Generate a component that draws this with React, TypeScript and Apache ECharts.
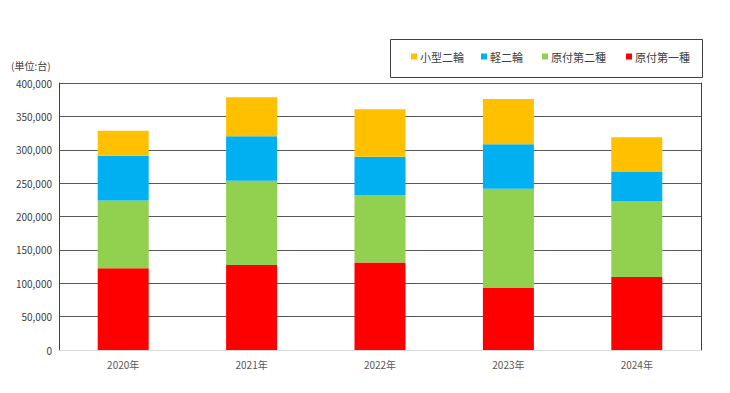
import React, { useEffect, useRef } from "react";
import * as echarts from "echarts";

const categories = ["2020年", "2021年", "2022年", "2023年", "2024年"];
const gentsuki1 = [122300, 127200, 131200, 92800, 109300];
const gentsuki2 = [101800, 126300, 100800, 148700, 113800];
const kei2rin = [66800, 66900, 57400, 66900, 43400];
const kogata2rin = [37400, 58300, 71400, 67800, 52400];
const legendNames = ["小型二輪", "軽二輪", "原付第二種", "原付第一種"];
const colors = ["#FFC000", "#00B0F0", "#92D050", "#FF0000"];
const unitLabel = "(単位:台)";

const FONT = "'Noto Sans CJK JP', 'Noto Sans', sans-serif";

export default function App() {
  const ref = useRef<HTMLDivElement>(null);
  useEffect(() => {
    if (!ref.current) return;
    const chart = echarts.init(ref.current, null, { renderer: "svg" });
    const legendX = [411, 481, 542, 626];
    const seriesData = [kogata2rin, kei2rin, gentsuki2, gentsuki1];
    const order = [3, 2, 1, 0];
    chart.setOption({
      animation: false,
      textStyle: { fontFamily: FONT },
      grid: { left: 59, right: 29, top: 83, bottom: 43, show: false },
      legend: legendNames.map((n, i) => ({
        data: [n],
        left: legendX[i],
        top: 51,
        padding: 0,
        itemWidth: 6,
        itemHeight: 6,
        icon: "rect",
        selectedMode: false,
        textStyle: { fontSize: 11, color: "#404040", fontFamily: FONT, padding: [0, 0, 0, -2] },
      })),
      graphic: [
        {
          type: "rect",
          shape: { x: 390.5, y: 39.5, width: 312, height: 38 },
          style: { fill: "none", stroke: "#404040", lineWidth: 1 },
          z: 10,
        },
        {
          type: "text",
          left: 11,
          top: 60,
          style: { text: unitLabel, fontSize: 10, fill: "#404040", fontFamily: FONT },
        },
      ],
      xAxis: {
        type: "category",
        data: categories,
        axisTick: { show: false },
        axisLine: { show: true, lineStyle: { color: "#D9D9D9", width: 1 } },
        axisLabel: { color: "#595959", fontSize: 10, margin: 9, fontFamily: FONT },
      },
      yAxis: [
        {
          type: "value",
          min: 0,
          max: 400000,
          interval: 50000,
          axisLine: { show: true, lineStyle: { color: "#404040", width: 1 } },
          axisTick: { show: false },
          splitLine: { lineStyle: { color: "#595959", width: 1 } },
          axisLabel: {
            color: "#404040",
            fontSize: 10,
            margin: 7,
            fontFamily: FONT,
            formatter: (v: number) => v.toLocaleString("en-US"),
          },
        },
        {
          type: "value",
          position: "right",
          min: 0,
          max: 400000,
          interval: 50000,
          axisLine: { show: true, lineStyle: { color: "#404040", width: 1 } },
          axisTick: { show: false },
          axisLabel: { show: false },
          splitLine: { show: false },
        },
      ],
      series: order.map((idx) => ({
        name: legendNames[idx],
        type: "bar",
        stack: "total",
        barWidth: 51,
        data: seriesData[idx],
        itemStyle: { color: colors[idx] },
      })),
    });
    return () => chart.dispose();
  }, []);
  return (
    <div
      ref={ref}
      style={{ position: "absolute", left: 0, top: 0, width: 730, height: 393, background: "#fff" }}
    />
  );
}
